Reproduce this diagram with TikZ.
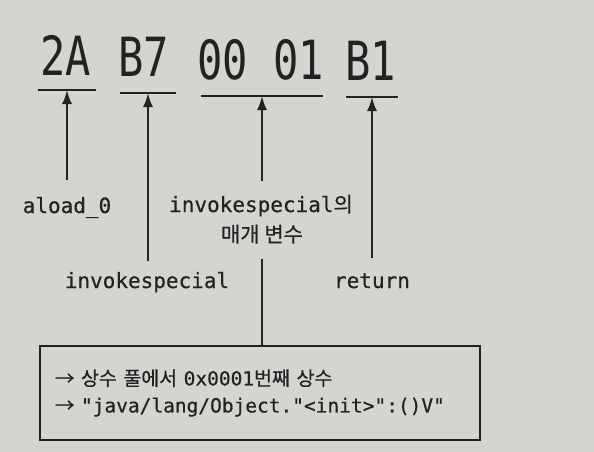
\documentclass[tikz,border=0pt]{standalone}
\usepackage{fontspec}
\usepackage{tikz}
\usetikzlibrary{arrows.meta}
\newfontfamily\hexfont[FakeStretch=0.78]{DejaVu Sans Mono}
\newfontfamily\codefont[FakeBold=0.5]{DejaVu Sans Mono}
\newfontfamily\krfont[FakeBold=0.5]{Noto Sans CJK KR}
\newcommand{\kr}[1]{{\krfont #1}}
\definecolor{paper}{RGB}{212,212,209}
\definecolor{ink}{RGB}{34,34,34}
\tikzstyle{hexbyte}=[font=\hexfont\fontsize{54}{60}\selectfont, text=ink, anchor=base, inner sep=0pt]
\tikzstyle{oplabel}=[font=\codefont\fontsize{21}{27}\selectfont, text=ink, anchor=base, inner sep=2pt]
\tikzstyle{poolbox}=[draw=ink, line width=2pt, align=left, text width=410pt, inner xsep=15pt, minimum height=94pt, text=ink, font=\codefont\fontsize{19.5}{27}\selectfont]
\tikzstyle{uline}=[draw=ink, line width=2pt]
\tikzstyle{pointer}=[draw=ink, line width=2pt, -{Latex[length=14pt, width=10pt]}]

\begin{document}
\begin{tikzpicture}[x=1pt, y=-1pt]
                \fill[paper] (0,0) rectangle (594,452);
                \useasboundingbox (0,0) rectangle (594,452);
                % bytes
                \node[hexbyte] (b2a) at (65.5,75) {2A};
                \node[hexbyte] (bb7) at (143.5,76) {B7};
                \node[hexbyte] (b0001) at (260.5,79) {00 01};
                \node[hexbyte] (bb1) at (370.5,81) {B1};
                \coordinate (u2a) at (67,90);
                \coordinate (ub7) at (148,93);
                \coordinate (u0001) at (262,96);
                \coordinate (ub1) at (372,97);
                \draw[uline] ([xshift=-29pt]u2a) -- ([xshift=29pt]u2a);
                \draw[uline] ([xshift=-28pt]ub7) -- ([xshift=28pt]ub7);
                \draw[uline] ([xshift=-61pt]u0001) -- ([xshift=61pt]u0001);
                \draw[uline] ([xshift=-26pt]ub1) -- ([xshift=26pt]ub1);
                % labels
                \node[oplabel] (aload) at (67,213) {aload\_0};
                \node[oplabel] (argtop) at (261,212) {invokespecial\kr{의}};
                \node[oplabel] (argbot) at (262,242) {\kr{매개 변수}};
                \node[oplabel] (invoke) at (147,288) {invokespecial};
                \node[oplabel] (ret) at (372,288) {return};
                \node[poolbox] (pool) at (260,393) {\kr{→ 상수 풀에서 }0x0001\kr{번째 상수}\\\kr{→ }"java/lang/Object."<init>":()V"};
                \draw[pointer, shorten <=15pt] (u2a |- aload.north) -- (u2a);
                \draw[pointer, shorten <=11pt] (u0001 |- argtop.north) -- (u0001);
                \draw[pointer, shorten <=9pt]  (ub7 |- invoke.north) -- (ub7);
                \draw[pointer, shorten <=13pt] (ub1 |- ret.north) -- (ub1);
                \draw[uline, shorten <=13pt] (u0001 |- argbot.south) -- (u0001 |- pool.north);
            \end{tikzpicture}
\end{document}
